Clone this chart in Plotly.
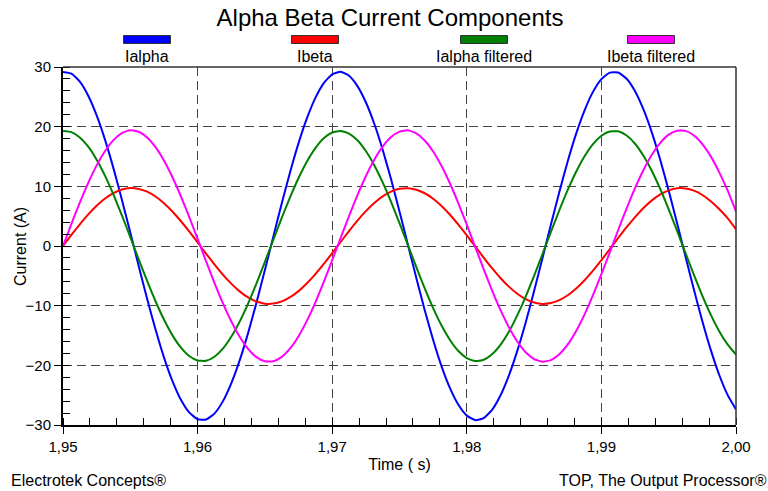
import plotly.graph_objects as go

FONT = "Liberation Sans, Arial, sans-serif"

# sample times: every 0.000625 s from 1.95 to 2.00
time_s = [round(1.95 + 0.000625 * k, 6) for k in range(81)]

ialpha = [29.17, 28.89, 27.54, 25.18, 21.88, 17.78, 13.01, 7.77, 2.25, -3.37,
          -8.85, -14.01, -18.66, -22.60, -25.73, -27.89, -29.03, -29.09, -28.09, -26.04,
          -23.02, -19.17, -14.60, -9.49, -4.03, 1.57, 7.12, 12.41, 17.24, 21.42,
          24.83, 27.31, 28.78, 29.19, 28.53, 26.80, 24.09, 20.49, 16.13, 11.17,
          5.80, 0.22, -5.37, -10.76, -15.75, -20.17, -23.83, -26.62, -28.43, -29.18,
          -28.85, -27.46, -25.06, -21.73, -17.58, -12.82, -7.56, -2.02, 3.59, 9.07,
          14.21, 18.83, 22.75, 25.83, 27.96, 29.05, 29.07, 28.02, 25.93, 22.88,
          19.00, 14.40, 9.28, 3.81, -1.80, -7.34, -12.61, -17.41, -21.58, -24.95,
          -27.39]

ibeta = [0.00, 1.86, 3.64, 5.30, 6.75, 7.96, 8.87, 9.46, 9.70, 9.57,
         9.10, 8.29, 7.17, 5.79, 4.19, 2.44, 0.60, -1.27, -3.08, -4.79,
         -6.31, -7.60, -8.62, -9.31, -9.66, -9.65, -9.29, -8.58, -7.56, -6.25,
         -4.72, -3.01, -1.19, 0.67, 2.51, 4.26, 5.85, 7.22, 8.32, 9.12,
         9.59, 9.69, 9.44, 8.84, 7.92, 6.70, 5.23, 3.57, 1.78, -0.07,
         -1.93, -3.71, -5.36, -6.81, -8.00, -8.90, -9.48, -9.70, -9.56, -9.07,
         -8.25, -7.12, -5.73, -4.12, -2.37, -0.52, 1.34, 3.15, 4.85, 6.37,
         7.65, 8.65, 9.33, 9.67, 9.64, 9.27, 8.55, 7.51, 6.20, 4.66,
         2.80]

ialpha_f = [19.28, 19.09, 18.20, 16.64, 14.46, 11.75, 8.60, 5.14, 1.48, -2.23,
            -5.85, -9.26, -12.33, -14.94, -17.00, -18.44, -19.19, -19.23, -18.56, -17.21,
            -15.22, -12.67, -9.65, -6.27, -2.67, 1.04, 4.71, 8.20, 11.39, 14.16,
            16.41, 18.05, 19.02, 19.29, 18.85, 17.72, 15.92, 13.54, 10.66, 7.39,
            3.84, 0.15, -3.55, -7.11, -10.41, -13.33, -15.75, -17.60, -18.79, -19.29,
            -19.07, -18.15, -16.56, -14.36, -11.62, -8.47, -4.99, -1.34, 2.37, 5.99,
            9.39, 12.44, 15.04, 17.07, 18.48, 19.20, 19.22, 18.52, 17.14, 15.13,
            12.56, 9.52, 6.13, 2.52, -1.19, -4.85, -8.34, -11.51, -14.27, -16.49,
            -18.20]

ibeta_f = [0.00, 3.71, 7.28, 10.59, 13.51, 15.92, 17.75, 18.92, 19.39, 19.15,
           18.20, 16.57, 14.34, 11.57, 8.38, 4.88, 1.20, -2.53, -6.17, -9.57,
           -12.62, -15.21, -17.23, -18.62, -19.32, -19.30, -18.58, -17.16, -15.11, -12.51,
           -9.44, -6.02, -2.38, 1.34, 5.02, 8.51, 11.69, 14.44, 16.65, 18.25,
           19.17, 19.39, 18.88, 17.69, 15.83, 13.40, 10.47, 7.15, 3.57, -0.15,
           -3.86, -7.42, -10.72, -13.61, -16.01, -17.81, -18.95, -19.39, -19.12, -18.14,
           -16.50, -14.23, -11.45, -8.25, -4.73, -1.05, 2.68, 6.31, 9.70, 12.74,
           15.30, 17.30, 18.66, 19.33, 19.29, 18.53, 17.09, 15.02, 12.39, 9.31,
           5.80]

series_names = ["Ialpha", "Ibeta", "Ialpha filtered", "Ibeta filtered"]
series_values = [ialpha, ibeta, ialpha_f, ibeta_f]
series_colors = ["#0000FF", "#FF0000", "#008000", "#FF00FF"]

fig = go.Figure()
for name, vals, col in zip(series_names, series_values, series_colors):
    fig.add_trace(go.Scatter(x=time_s, y=vals, name=name, mode="lines",
                             line=dict(color=col, width=2, shape="spline", smoothing=0.5),
                             showlegend=False))

# plot area in pixels
L, R, T, B = 63, 736, 67, 425
W, H = 768, 491

def px(xp):
    return (xp - L) / (R - L)

def py(yp):
    return (B - yp) / (B - T)

# manual legend
legend_centers = [147, 315, 484, 651]
shapes = []
annotations = []
for cx, name, col in zip(legend_centers, series_names, series_colors):
    shapes.append(dict(type="rect", xref="paper", yref="paper",
                       x0=px(cx - 23.5), x1=px(cx + 23.5), y0=py(43.5), y1=py(35.5),
                       fillcolor=col, line=dict(color="#333333", width=1)))
    annotations.append(dict(text=name, xref="paper", yref="paper", x=px(cx), y=py(56.5),
                            xanchor="center", yanchor="middle", showarrow=False,
                            font=dict(family=FONT, size=16, color="#000")))

# top/right thin frame
shapes.append(dict(type="line", xref="paper", yref="paper", x0=0, x1=1, y0=1, y1=1,
                   line=dict(color="#333333", width=1.5)))
shapes.append(dict(type="line", xref="paper", yref="paper", x0=1, x1=1, y0=0, y1=1,
                   line=dict(color="#333333", width=1.5)))

annotations.append(dict(text="Current (A)", xref="paper", yref="paper",
                        x=px(20), y=py(247), xanchor="center", yanchor="middle",
                        textangle=-90, showarrow=False,
                        font=dict(family=FONT, size=16, color="#000")))
annotations.append(dict(text="Electrotek Concepts®", xref="paper", yref="paper",
                        x=px(9), y=py(480), xanchor="left", yanchor="middle",
                        showarrow=False, font=dict(family=FONT, size=16, color="#000")))
annotations.append(dict(text="TOP, The Output Processor®", xref="paper", yref="paper",
                        x=px(769), y=py(480), xanchor="right", yanchor="middle",
                        showarrow=False, font=dict(family=FONT, size=16, color="#000")))

fig.update_layout(
    width=W, height=H,
    margin=dict(l=L, r=W - R, t=T, b=H - B, pad=0),
    paper_bgcolor="white", plot_bgcolor="white",
    separators=", ",
    font=dict(family=FONT, size=15, color="#000"),
    title=dict(text="Alpha Beta Current Components", x=390 / W, xanchor="center",
               y=1 - 18 / H, yanchor="middle", yref="container",
               font=dict(family=FONT, size=24, color="#000")),
    shapes=shapes,
    annotations=annotations,
)

fig.update_xaxes(range=[1.95, 2.00], tickmode="array",
                 tickvals=[1.95, 1.96, 1.97, 1.98, 1.99, 2.00],
                 ticktext=["1,95", "1,96", "1,97", "1,98", "1,99", "2,00"],
                 ticks="outside", ticklen=7, tickwidth=1, tickcolor="#000",
                 showline=True, linecolor="#000", linewidth=2,
                 showgrid=True, gridcolor="#444444", griddash="9px,5px", gridwidth=1,
                 zeroline=False,
                 minor=dict(dtick=0.002, tick0=1.95, ticks="inside", ticklen=7,
                            tickcolor="#000", showgrid=False),
                 title=dict(text="Time ( s)", standoff=5,
                            font=dict(family=FONT, size=16)),
                 tickfont=dict(family=FONT, size=15))

fig.update_yaxes(range=[-30, 30], tickmode="array",
                 tickvals=[-30, -20, -10, 0, 10, 20, 30],
                 ticks="outside", ticklen=7, tickwidth=1, tickcolor="#000",
                 showline=True, linecolor="#000", linewidth=2,
                 showgrid=True, gridcolor="#444444", griddash="9px,5px", gridwidth=1,
                 zeroline=False,
                 minor=dict(dtick=2, tick0=-30, ticks="inside", ticklen=7,
                            tickcolor="#000", showgrid=False),
                 tickfont=dict(family=FONT, size=15))

fig.write_html("out.html")
